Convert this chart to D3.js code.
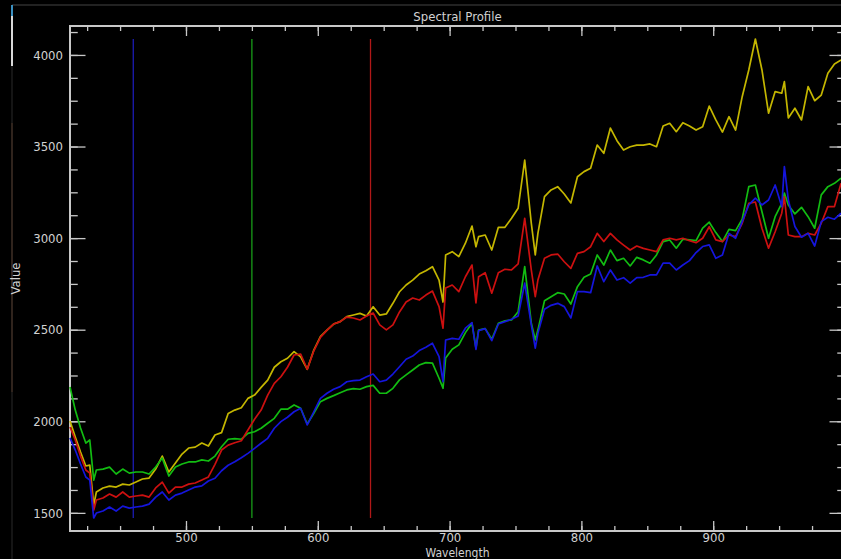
<!DOCTYPE html>
<html>
<head>
<meta charset="utf-8">
<script src="https://cdn.jsdelivr.net/npm/d3@7"></script>
<style>
  html, body { margin: 0; padding: 0; background: #000; overflow: hidden; }
  svg { display: block; }
  text { font-family: "DejaVu Sans Condensed", "DejaVu Sans", sans-serif; font-size: 13px; fill: #d2d2d2; }
</style>
</head>
<body>
<svg id="chart" width="841" height="559"></svg>
<script>
// spectral profile data (wavelength in nm)
var wavelengths = [412,416,420,424,427,430,432,437,442,447,452,457,462,467,472,477,482,487,492,497,
  502,507,512,517,522,527,532,537,542,547,552,557,562,567,572,577,582,587,592,597,
  602,607,612,617,622,627,632,637,642,647,652,657,662,667,672,677,682,687,692,695,
  697,702,707,712,717,720,722,727,732,737,742,747,752,757,762,765,767,772,777,782,
  787,792,797,802,807,812,817,822,827,832,837,842,847,852,857,862,867,872,877,882,
  887,892,897,902,907,912,917,922,927,932,937,942,947,952,954,957,962,967,972,977,
  982,987,992,997];

var yellowSeries = [2001,1914,1832,1756,1761,1543,1614,1636,1646,1641,1657,1652,1668,1685,1690,1739,1810,1723,1772,1821,
  1854,1859,1881,1865,1925,1938,2043,2061,2074,2125,2143,2185,2225,2295,2325,2344,2380,2352,2284,2389,
  2462,2498,2531,2544,2571,2580,2589,2575,2625,2580,2586,2644,2707,2744,2771,2804,2822,2844,2771,2651,
  2908,2926,2899,2972,3066,2953,3008,3017,2935,3059,3059,3108,3163,3426,3081,2908,3026,3226,3263,3281,
  3241,3192,3335,3363,3381,3508,3463,3601,3532,3481,3499,3508,3508,3514,3499,3612,3627,3581,3630,3612,
  3590,3608,3721,3645,3579,3663,3590,3772,3918,4087,3918,3682,3800,3791,3854,3656,3709,3645,3827,3750,
  3781,3900,3951,3972];

var redSeries = [1969,1898,1810,1734,1717,1515,1570,1581,1603,1586,1614,1586,1592,1597,1586,1636,1668,1608,1641,1641,
  1657,1663,1679,1696,1765,1843,1870,1883,1894,1952,2011,2061,2143,2207,2243,2295,2362,2367,2284,2385,
  2458,2498,2531,2544,2569,2564,2553,2575,2591,2526,2499,2526,2597,2651,2673,2662,2689,2711,2626,2508,
  2728,2744,2708,2789,2853,2646,2789,2811,2699,2811,2830,2826,2859,3108,2826,2680,2771,2890,2908,2913,
  2871,2835,2917,2926,2953,3026,2981,3026,2990,2962,2935,2957,2944,2935,2926,2990,2999,2990,2999,2986,
  2975,2999,3062,2990,2981,3017,3008,3081,3190,3197,3054,2945,3035,3136,3226,3017,3008,3008,3026,3017,
  3081,3172,3172,3299];

var greenSeries = [2187,2061,1963,1881,1898,1679,1734,1739,1750,1712,1739,1717,1723,1723,1712,1750,1799,1701,1750,1767,
  1778,1778,1789,1783,1810,1861,1902,1905,1902,1934,1943,1962,1989,2016,2066,2066,2089,2071,1985,2044,
  2107,2125,2140,2156,2171,2178,2175,2189,2196,2153,2153,2180,2226,2253,2280,2307,2320,2317,2235,2180,
  2346,2393,2417,2484,2535,2399,2498,2506,2448,2535,2549,2553,2598,2844,2535,2444,2498,2658,2680,2702,
  2695,2640,2735,2786,2804,2908,2853,2935,2877,2890,2848,2895,2881,2863,2908,2981,2990,2945,2994,2990,
  2986,3054,3087,3030,2981,3048,3041,3103,3281,3290,3144,2999,3117,3190,3246,3181,3132,3168,3117,3054,
  3236,3281,3299,3327];

var blueSeries = [1909,1843,1767,1696,1679,1472,1499,1510,1532,1510,1537,1526,1532,1537,1548,1586,1614,1570,1597,1608,
  1625,1641,1647,1674,1689,1730,1760,1779,1801,1825,1852,1880,1907,1962,1998,2022,2052,2071,1980,2052,
  2125,2153,2175,2189,2216,2222,2225,2243,2258,2216,2225,2258,2298,2339,2356,2386,2404,2426,2353,2216,
  2444,2453,2448,2508,2539,2393,2495,2506,2440,2531,2544,2557,2575,2754,2526,2399,2480,2612,2633,2644,
  2626,2564,2708,2708,2702,2848,2762,2826,2771,2784,2754,2784,2786,2799,2799,2863,2863,2826,2853,2877,
  2921,2954,2963,2890,2908,3026,2999,3090,3181,3218,3181,3208,3290,3172,3390,3208,3063,3005,3026,2957,
  3090,3114,3103,3136];

// band marker wavelengths (blue, green, red)
var bandWavelengths = [460, 550, 640];
var bandColors = ['#1c1cb4', '#189c18', '#b01818'];

var xMajorTicks = [500, 600, 700, 800, 900];
var yMajorTicks = [1500, 2000, 2500, 3000, 3500, 4000];

var series = [
    {values: yellowSeries, color: '#c4b600'},
    {values: greenSeries, color: '#12bc12'},
    {values: redSeries, color: '#cc1010'},
    {values: blueSeries, color: '#1515dc'}
];

var svg = d3.select('#chart');
var plotLeft = 70, plotRight = 845, plotTop = 26, plotBottom = 531;

var x = d3.scaleLinear().domain([412, 1000]).range([plotLeft, plotRight]);
var y = d3.scaleLinear().domain([1401, 4158]).range([plotBottom, plotTop]);

// window decoration bits
svg.append('line').attr('x1', 12).attr('x2', 841).attr('y1', 5).attr('y2', 5)
    .style('stroke', '#2e2e2e').style('stroke-width', 1.5);
svg.append('line').attr('x1', 12).attr('x2', 12).attr('y1', 5).attr('y2', 559)
    .style('stroke', '#1c1c1c').style('stroke-width', 1.5);
svg.append('line').attr('x1', 12).attr('x2', 12).attr('y1', 123).attr('y2', 392)
    .style('stroke', '#3a2a20').style('stroke-width', 1.5);
svg.append('line').attr('x1', 12).attr('x2', 12).attr('y1', 5).attr('y2', 16)
    .style('stroke', '#3a8fc0').style('stroke-width', 2);
svg.append('line').attr('x1', 12).attr('x2', 12).attr('y1', 16).attr('y2', 66)
    .style('stroke', '#d8d8d8').style('stroke-width', 2);

var axisColor = '#c8c8c8';

function minorTicks(lo, hi, step) {
    var t = [];
    for (var v = Math.ceil(lo / step) * step; v <= hi; v += step) t.push(v);
    return t;
}
var xMinor = minorTicks(412, 1000, 25);
var yMinor = minorTicks(1401, 4158, 125);

function styleAxis(g) {
    g.select('.domain').remove();
    g.selectAll('.tick line').style('stroke', axisColor).style('stroke-width', 1.3);
    g.selectAll('.tick text').style('fill', '#d2d2d2').style('font-size', '13px')
        .style('font-family', '"DejaVu Sans Condensed", "DejaVu Sans", sans-serif');
}

// x axes: bottom with labels, top without
svg.append('g').attr('transform', 'translate(0,' + plotBottom + ')')
    .call(d3.axisBottom(x).tickValues(xMinor).tickSize(-5).tickFormat(''))
    .call(styleAxis);
svg.append('g').attr('transform', 'translate(0,' + plotBottom + ')')
    .call(d3.axisBottom(x).tickValues(xMajorTicks).tickSize(-10).tickPadding(2).tickFormat(d3.format('d')))
    .call(styleAxis);
svg.append('g').attr('transform', 'translate(0,' + plotTop + ')')
    .call(d3.axisTop(x).tickValues(xMinor).tickSize(-5).tickFormat(''))
    .call(styleAxis);
svg.append('g').attr('transform', 'translate(0,' + plotTop + ')')
    .call(d3.axisTop(x).tickValues(xMajorTicks).tickSize(-10).tickFormat(''))
    .call(styleAxis);

// y axes: left with labels, right without
svg.append('g').attr('transform', 'translate(' + plotLeft + ',0)')
    .call(d3.axisLeft(y).tickValues(yMinor).tickSize(-7.75).tickFormat(''))
    .call(styleAxis);
svg.append('g').attr('transform', 'translate(' + plotLeft + ',0)')
    .call(d3.axisLeft(y).tickValues(yMajorTicks).tickSize(-15.5).tickPadding(7).tickFormat(d3.format('d')))
    .call(styleAxis);
svg.append('g').attr('transform', 'translate(' + plotRight + ',0)')
    .call(d3.axisRight(y).tickValues(yMinor).tickSize(-7.75).tickFormat(''))
    .call(styleAxis);
svg.append('g').attr('transform', 'translate(' + plotRight + ',0)')
    .call(d3.axisRight(y).tickValues(yMajorTicks).tickSize(-15.5).tickFormat(''))
    .call(styleAxis);

svg.append('rect')
    .attr('x', plotLeft).attr('y', plotTop)
    .attr('width', plotRight - plotLeft).attr('height', plotBottom - plotTop)
    .style('fill', 'none').style('stroke', axisColor).style('stroke-width', 2);

// band markers span the full data range
var allValues = yellowSeries.concat(redSeries, greenSeries, blueSeries);
var vMin = d3.min(allValues), vMax = d3.max(allValues);

svg.selectAll('line.band')
    .data(bandWavelengths)
    .enter()
    .append('line')
    .attr('class', 'band')
    .attr('x1', function(d){return x(d)})
    .attr('x2', function(d){return x(d)})
    .attr('y1', y(vMax))
    .attr('y2', y(vMin))
    .style('stroke', function(d, i){return bandColors[i]})
    .style('stroke-width', 1.3);

var line = d3.line()
    .x(function(d, i){return x(wavelengths[i])})
    .y(function(d){return y(d)});

svg.selectAll('path.spectrum')
    .data(series)
    .enter()
    .append('path')
    .attr('class', 'spectrum')
    .attr('d', function(s){return line(s.values)})
    .style('fill', 'none')
    .style('stroke', function(s){return s.color})
    .style('stroke-width', 1.7)
    .style('stroke-linejoin', 'round');

// titles
svg.append('text').attr('x', (plotLeft + plotRight) / 2).attr('y', 21)
    .attr('text-anchor', 'middle').text('Spectral Profile');
svg.append('text').attr('x', (plotLeft + plotRight) / 2).attr('y', 556.5)
    .style('font-size', '12px')
    .attr('text-anchor', 'middle').text('Wavelength');
svg.append('text')
    .attr('transform', 'translate(20,' + (plotTop + plotBottom) / 2 + ') rotate(-90)')
    .attr('text-anchor', 'middle').text('Value');
</script>
</body>
</html>
